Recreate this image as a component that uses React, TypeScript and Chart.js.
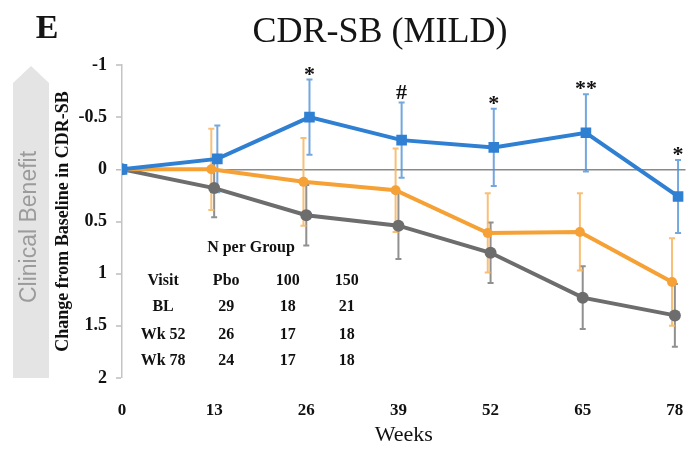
import { useEffect, useRef } from "react";
import { Chart, registerables } from "chart.js";

Chart.register(...registerables);

// ---- data ----
const weeks = [0, 13, 26, 39, 52, 65, 78];
const yTicks = [-1, -0.5, 0, 0.5, 1, 1.5, 2];

const dose150 = [0, -0.1, -0.5, -0.28, -0.21, -0.35, 0.26];
const dose150Err = [0, 0.32, 0.36, 0.36, 0.37, 0.37, 0.35];

const dose100 = [0, 0, 0.12, 0.2, 0.61, 0.6, 1.08];
const dose100Err = [0, 0.39, 0.42, 0.4, 0.38, 0.37, 0.42];

const placebo = [0, 0.18, 0.44, 0.54, 0.8, 1.23, 1.4];
const placeboErr = [0, 0.28, 0.29, 0.32, 0.29, 0.3, 0.3];

const sigMarks = ["", "", "*", "#", "*", "**", "*"];

const chartTitle = "CDR-SB (MILD)";
const panelLabel = "E";
const benefitLabel = "Clinical Benefit";
const yTitle = "Change from Baseline in CDR-SB";
const xTitle = "Weeks";

const tableTitle = "N per Group";
const tableHeader = ["Visit", "Pbo", "100", "150"];
const tableRows = [
  ["BL", "29", "18", "21"],
  ["Wk 52", "26", "17", "18"],
  ["Wk 78", "24", "17", "18"],
];

// ---- styles ----
const SERIF = "'Liberation Serif', 'Times New Roman', serif";
const SANS = "'Liberation Sans', Arial, sans-serif";

const series = [
  { label: "150", values: dose150, errors: dose150Err, color: "#2f7fd2", bar: "rgba(80,145,215,0.8)", style: "rect", radius: 7.5, dodge: 0.45 },
  { label: "100", values: dose100, errors: dose100Err, color: "#f5a136", bar: "rgba(247,180,95,0.85)", style: "circle", radius: 5, dodge: -0.4 },
  { label: "Pbo", values: placebo, errors: placeboErr, color: "#6d6d6d", bar: "rgba(125,125,125,0.85)", style: "circle", radius: 6, dodge: 0 },
];

const decorPlugin = {
  id: "decor",
  beforeDraw(chart: any) {
    const ctx = chart.ctx;
    ctx.save();
    ctx.fillStyle = "#fff";
    ctx.fillRect(0, 0, chart.width, chart.height);
    // benefit arrow
    ctx.fillStyle = "#e4e4e4";
    ctx.beginPath();
    ctx.moveTo(31, 66);
    ctx.lineTo(49, 83);
    ctx.lineTo(49, 378);
    ctx.lineTo(13, 378);
    ctx.lineTo(13, 83);
    ctx.closePath();
    ctx.fill();
    ctx.translate(30, 227);
    ctx.rotate(-Math.PI / 2);
    ctx.font = `23px ${SANS}`;
    ctx.fillStyle = "#9b9b9b";
    ctx.textAlign = "center";
    ctx.textBaseline = "middle";
    ctx.fillText(benefitLabel, 0, 0);
    ctx.restore();
  },
  beforeDatasetsDraw(chart: any) {
    const ctx = chart.ctx;
    const ys = chart.scales.y;
    ctx.save();
    for (let d = series.length - 1; d >= 0; d--) {
      const s = series[d];
      const meta = chart.getDatasetMeta(d);
      ctx.strokeStyle = s.bar;
      ctx.lineWidth = 2;
      s.values.forEach((v, i) => {
        const e = s.errors[i];
        if (!e) return;
        const x = meta.data[i].x;
        const t = ys.getPixelForValue(v - e);
        const b = ys.getPixelForValue(v + e);
        ctx.beginPath();
        ctx.moveTo(x, t);
        ctx.lineTo(x, b);
        ctx.moveTo(x - 3, t);
        ctx.lineTo(x + 3, t);
        ctx.moveTo(x - 3, b);
        ctx.lineTo(x + 3, b);
        ctx.stroke();
      });
    }
    ctx.restore();
  },
  afterDatasetsDraw(chart: any) {
    const ctx = chart.ctx;
    const xs = chart.scales.x;
    const ys = chart.scales.y;
    ctx.save();
    // significance marks above the 150 series
    const meta = chart.getDatasetMeta(0);
    ctx.fillStyle = "#111";
    ctx.font = `bold 22px ${SERIF}`;
    ctx.textAlign = "center";
    ctx.textBaseline = "alphabetic";
    sigMarks.forEach((m, i) => {
      if (!m) return;
      const x = meta.data[i].x;
      const top = ys.getPixelForValue(dose150[i] - dose150Err[i]);
      const mt = ctx.measureText(m);
      const desc = mt.actualBoundingBoxDescent;
      ctx.fillText(m, x, top - 4 - desc);
    });
    // N per group table
    ctx.font = `bold 16px ${SERIF}`;
    ctx.textBaseline = "middle";
    const colX = [5.8, 14.7, 23.4, 31.7].map((w) => xs.getPixelForValue(w));
    const rowY = [1.07, 1.32, 1.59, 1.84].map((v) => ys.getPixelForValue(v));
    ctx.fillText(tableTitle, xs.getPixelForValue(18.2), ys.getPixelForValue(0.75));
    [tableHeader, ...tableRows].forEach((row, r) => {
      row.forEach((cell, c) => ctx.fillText(cell, colX[c], rowY[r]));
    });
    ctx.restore();
  },
  afterDraw(chart: any) {
    const ctx = chart.ctx;
    ctx.save();
    ctx.fillStyle = "#151515";
    ctx.textAlign = "center";
    ctx.textBaseline = "middle";
    ctx.font = `36px ${SERIF}`;
    ctx.fillText(chartTitle, 380, 33);
    ctx.font = `bold 34px ${SERIF}`;
    ctx.fillText(panelLabel, 47, 29);
    ctx.restore();
  },
};

export default function App() {
  const ref = useRef<HTMLCanvasElement>(null);
  useEffect(() => {
    const canvas = ref.current!;
    const chart = new Chart(canvas, {
      type: "line",
      data: {
        datasets: series.map((s) => ({
          label: s.label,
          data: weeks.map((w, i) => ({ x: w === 0 ? 0 : w + s.dodge, y: s.values[i] })),
          borderColor: s.color,
          backgroundColor: s.color,
          borderWidth: 4,
          pointStyle: s.style as any,
          pointRadius: s.radius,
          pointBorderWidth: 0,
          tension: 0,
        })),
      },
      options: {
        responsive: false,
        devicePixelRatio: 1,
        animation: false,
        layout: { padding: { left: 52, top: 65, right: 3, bottom: 0 } },
        plugins: { legend: { display: false }, tooltip: { enabled: false }, title: { display: false } },
        scales: {
          x: {
            type: "linear",
            min: 0,
            max: 79.5,
            afterBuildTicks: (s: any) => {
              s.ticks = weeks.map((v) => ({ value: v }));
            },
            grid: { display: true, drawOnChartArea: false, drawTicks: true, tickLength: 20, tickColor: "rgba(0,0,0,0)" },
            border: { display: false },
            ticks: { font: { family: SERIF, size: 17, weight: "bold" }, color: "#111", padding: 2, maxRotation: 0, autoSkip: false },
            title: { display: true, text: xTitle, font: { family: SERIF, size: 22 }, color: "#111", padding: { top: 0, bottom: 2 } },
            afterFit: (s: any) => {
              s.height = 72;
            },
          },
          y: {
            type: "linear",
            reverse: true,
            min: -1,
            max: 2,
            afterBuildTicks: (s: any) => {
              s.ticks = yTicks.map((v) => ({ value: v }));
            },
            grid: {
              color: (c: any) => (c.tick && c.tick.value === 0 ? "#8a8a8a" : "rgba(0,0,0,0)"),
              lineWidth: (c: any) => (c.tick && c.tick.value === 0 ? 1.5 : 0),
              tickColor: "#bdbdbd",
              tickWidth: 1.5,
              tickLength: 6,
              drawTicks: true,
            },
            border: { display: true, color: "#c4c4c4", width: 1.5 },
            ticks: { font: { family: SERIF, size: 18, weight: "bold" }, color: "#111", padding: 9, callback: (v: any) => String(v) },
            title: { display: true, text: yTitle, font: { family: SERIF, size: 18, weight: "bold" }, color: "#111", padding: { top: 1, bottom: 0 } },
            afterFit: (s: any) => {
              s.width = 70;
            },
          },
        },
      },
      plugins: [decorPlugin],
    } as any);
    return () => chart.destroy();
  }, []);
  return (
    <div style={{ position: "absolute", left: 0, top: 0, width: 693, height: 450, background: "#fff" }}>
      <canvas ref={ref} width={693} height={450} style={{ display: "block", width: 693, height: 450 }} />
    </div>
  );
}
